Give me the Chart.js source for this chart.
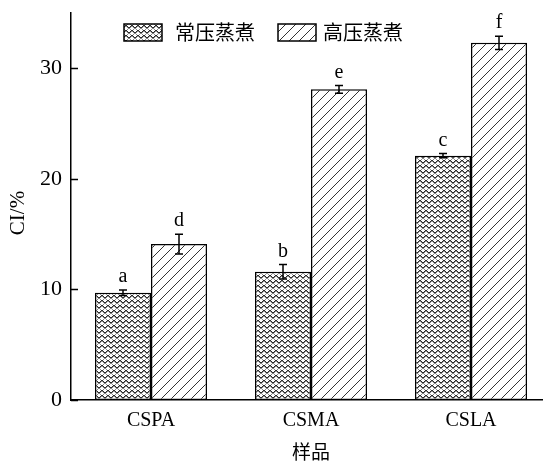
<!DOCTYPE html>
<html>
<head>
<meta charset="utf-8">
<script src="https://cdn.jsdelivr.net/npm/chart.js@4.4.1/dist/chart.umd.min.js"></script>
<style>
  html, body { margin: 0; padding: 0; background: #fff; overflow: hidden; }
  #wrap { width: 543px; height: 462px; overflow: hidden; }
  canvas { display: block; }
</style>
</head>
<body>
<div id="wrap"><canvas id="c" width="551" height="462"></canvas></div>
<script>
// Samples and CI (%) values for the two cooking methods
const categories = ['CSPA', 'CSMA', 'CSLA'];
const seriesNames = ['常压蒸煮', '高压蒸煮'];
const atmValues = [9.7, 11.6, 22.1];
const atmErrors = [0.25, 0.65, 0.2];
const atmLetters = ['a', 'b', 'c'];
const highValues = [14.1, 28.1, 32.3];
const highErrors = [0.9, 0.35, 0.6];
const highLetters = ['d', 'e', 'f'];
const yTicks = [0, 10, 20, 30];
const yTitle = 'CI/%';
const xTitle = '样品';

const SERIF = '"Liberation Serif", "DejaVu Serif", serif';
const CJK = '"Noto Sans CJK SC", "Noto Sans", sans-serif';

// Fill patterns: dense chevron texture and diagonal hatch
function chevronPattern() {
  const rows = [
    'KWWWWK',
    'GKWWKG',
    'WGKKGW',
    'WWGGWW',
    'WGWWGW'
  ];
  const shade = { K: '#2a2a2a', G: '#8a8a8a', W: '#fff' };
  const t = document.createElement('canvas');
  t.width = 6; t.height = rows.length;
  const g = t.getContext('2d');
  rows.forEach((r, y) => {
    for (let x = 0; x < r.length; x++) {
      g.fillStyle = shade[r[x]];
      g.fillRect(x, y, 1, 1);
    }
  });
  return g.createPattern(t, 'repeat');
}
function hatchPattern() {
  const s = 10;
  const t = document.createElement('canvas');
  t.width = s; t.height = s;
  const g = t.getContext('2d');
  g.fillStyle = '#fff';
  g.fillRect(0, 0, s, s);
  g.strokeStyle = '#333';
  g.lineWidth = 1;
  g.beginPath();
  g.moveTo(-1, s + 1); g.lineTo(s + 1, -1);
  g.moveTo(-1, 1); g.lineTo(1, -1);
  g.moveTo(s - 1, s + 1); g.lineTo(s + 1, s - 1);
  g.stroke();
  return g.createPattern(t, 'repeat');
}

const errors = [atmErrors, highErrors];
const letters = [atmLetters, highLetters];

// Error bars with significance letters above them
const errorBarPlugin = {
  id: 'errorBars',
  afterDatasetsDraw(chart) {
    const ctx = chart.ctx;
    const y = chart.scales.y;
    ctx.save();
    ctx.strokeStyle = '#000';
    ctx.lineWidth = 1.5;
    ctx.fillStyle = '#000';
    ctx.font = '20px ' + SERIF;
    ctx.textAlign = 'center';
    ctx.textBaseline = 'bottom';
    chart.data.datasets.forEach((ds, di) => {
      const meta = chart.getDatasetMeta(di);
      meta.data.forEach((bar, i) => {
        const v = ds.data[i], e = errors[di][i];
        const top = y.getPixelForValue(v + e);
        const bot = y.getPixelForValue(v - e);
        const x = bar.x;
        ctx.beginPath();
        ctx.moveTo(x, top); ctx.lineTo(x, bot);
        ctx.moveTo(x - 4, top); ctx.lineTo(x + 4, top);
        ctx.moveTo(x - 4, bot); ctx.lineTo(x + 4, bot);
        ctx.stroke();
        ctx.fillText(letters[di][i], x, top - 3);
      });
    });
    ctx.restore();
  }
};

// Inward tick marks on the value axis
const innerTicksPlugin = {
  id: 'innerTicks',
  afterDraw(chart) {
    const ctx = chart.ctx;
    const y = chart.scales.y;
    const left = chart.chartArea.left;
    ctx.save();
    ctx.strokeStyle = '#000';
    ctx.lineWidth = 1.5;
    ctx.beginPath();
    yTicks.forEach(v => {
      const p = Math.round(y.getPixelForValue(v)) + 0.5;
      ctx.moveTo(left, p); ctx.lineTo(left + 7, p);
    });
    ctx.stroke();
    ctx.restore();
  }
};

// Legend row and axis titles
const annotatePlugin = {
  id: 'annotate',
  afterDraw(chart) {
    const ctx = chart.ctx;
    ctx.save();
    const items = [{ bx: 124, tx: 175 }, { bx: 278, tx: 323 }];
    chart.data.datasets.forEach((ds, i) => {
      const it = items[i];
      ctx.fillStyle = ds.backgroundColor;
      ctx.fillRect(it.bx, 24, 38, 17);
      ctx.strokeStyle = '#000';
      ctx.lineWidth = 1.5;
      ctx.strokeRect(it.bx, 24, 38, 17);
      ctx.fillStyle = '#000';
      ctx.font = '20px ' + CJK;
      ctx.textAlign = 'left';
      ctx.textBaseline = 'middle';
      ctx.fillText(ds.label, it.tx, 32);
    });
    // axis titles
    ctx.fillStyle = '#000';
    ctx.textAlign = 'center';
    ctx.textBaseline = 'middle';
    ctx.font = '19px ' + CJK;
    const ca = chart.chartArea;
    ctx.fillText(xTitle, (ca.left + ca.right) / 2, 452);
    ctx.save();
    ctx.translate(18, 213);
    ctx.rotate(-Math.PI / 2);
    ctx.font = '21px ' + SERIF;
    ctx.fillText(yTitle, 0, 0);
    ctx.restore();
    ctx.restore();
  }
};

new Chart(document.getElementById('c'), {
  type: 'bar',
  data: {
    labels: categories,
    datasets: [
      {
        label: seriesNames[0],
        data: atmValues,
        backgroundColor: chevronPattern(),
        borderColor: '#000',
        borderWidth: 1.5,
        borderSkipped: false
      },
      {
        label: seriesNames[1],
        data: highValues,
        backgroundColor: hatchPattern(),
        borderColor: '#000',
        borderWidth: 1.5,
        borderSkipped: false
      }
    ]
  },
  options: {
    responsive: false,
    animation: false,
    events: [],
    layout: { padding: { top: 13, left: 0, right: 0, bottom: 0 } },
    datasets: { bar: { categoryPercentage: 0.7, barPercentage: 1.0 } },
    plugins: { legend: { display: false }, tooltip: { enabled: false } },
    scales: {
      x: {
        grid: { display: false, drawTicks: false },
        border: { display: true, color: '#000', width: 1.5 },
        ticks: { color: '#000', font: { family: SERIF, size: 20 }, padding: 9 },
        afterFit(s) { s.height = 62; s.paddingLeft = 0; s.paddingRight = 0; }
      },
      y: {
        min: 0,
        max: 35,
        afterBuildTicks(s) { s.ticks = yTicks.map(v => ({ value: v })); },
        grid: { display: false, drawTicks: false },
        border: { display: true, color: '#000', width: 1.5 },
        ticks: { color: '#000', font: { family: SERIF, size: 22 }, padding: 9 },
        afterFit(s) { s.width = 71; s.paddingTop = 0; s.paddingBottom = 0; }
      }
    }
  },
  plugins: [errorBarPlugin, innerTicksPlugin, annotatePlugin]
});
</script>
</body>
</html>
